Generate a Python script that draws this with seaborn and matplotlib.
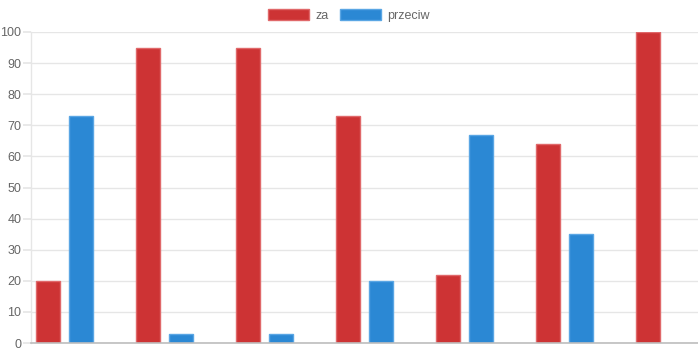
import matplotlib
matplotlib.use("Agg")
import matplotlib.pyplot as plt
from matplotlib.patches import Patch
import seaborn as sns
import pandas as pd
import numpy as np

categories = ["1", "2", "3", "4", "5", "6", "7"]
za = [20, 95, 95, 73, 22, 64, 100]
przeciw = [73, 3, 3, 20, 67, 35, 0]
series_names = ["za", "przeciw", "_hidden"]
colors = ["#cd3334", "#2b88d4", "#ffffff"]
edge_colors = ["#e0686a", "#5aa6e4", "#ffffff"]

rows = []
for c, a, b in zip(categories, za, przeciw):
    rows.append((c, "za", a))
    rows.append((c, "przeciw", b if b > 0 else np.nan))
    rows.append((c, "_hidden", np.nan))
df = pd.DataFrame(rows, columns=["cat", "series", "value"])

sns.set_theme(style="white")
plt.rcParams["font.family"] = ["Liberation Sans", "DejaVu Sans"]

fig = plt.figure(figsize=(6.98, 3.49), dpi=100)
ax = fig.add_axes([31 / 698, 6 / 349, 1 - 31 / 698, (343 - 32) / 349])

sns.barplot(data=df, x="cat", y="value", hue="series", hue_order=series_names,
            order=categories, palette=colors, width=1.0, gap=0.28,
            ax=ax, legend=False, errorbar=None, saturation=1)

for patch in ax.patches:
    fc = matplotlib.colors.to_hex(patch.get_facecolor())
    for c, e in zip(colors, edge_colors):
        if fc == c:
            patch.set_edgecolor(e)
            patch.set_linewidth(1.0)

ax.set_xlim(-0.5, -0.5 + 667 / 100)
ax.set_ylim(0, 100)
ax.set_yticks(range(0, 101, 10))
ax.set_xticks([])
ax.set_xlabel("")
ax.set_ylabel("")
ax.yaxis.grid(True, color="#e6e6e6", linewidth=1)
ax.set_axisbelow(True)
for side in ["top", "right"]:
    ax.spines[side].set_visible(False)
ax.spines["left"].set_color("#e6e6e6")
ax.spines["left"].set_linewidth(1)
ax.spines["bottom"].set_color("#bdbdbd")
ax.spines["bottom"].set_linewidth(1.2)
ax.tick_params(axis="y", length=6, color="#e6e6e6", labelsize=9,
               labelcolor="#666666", pad=1, left=True)

handles = [Patch(facecolor=colors[0], edgecolor=edge_colors[0], label="za"),
           Patch(facecolor=colors[1], edgecolor=edge_colors[1], label="przeciw")]
fig.legend(handles=handles, loc="upper center", bbox_to_anchor=(0.5, 1.0),
           ncol=2, frameon=False, fontsize=9, handlelength=3.3, handleheight=1.0,
           handletextpad=0.5, columnspacing=0.9, labelcolor="#666666",
           borderaxespad=0.3)

fig.savefig("out.png", dpi=100)
